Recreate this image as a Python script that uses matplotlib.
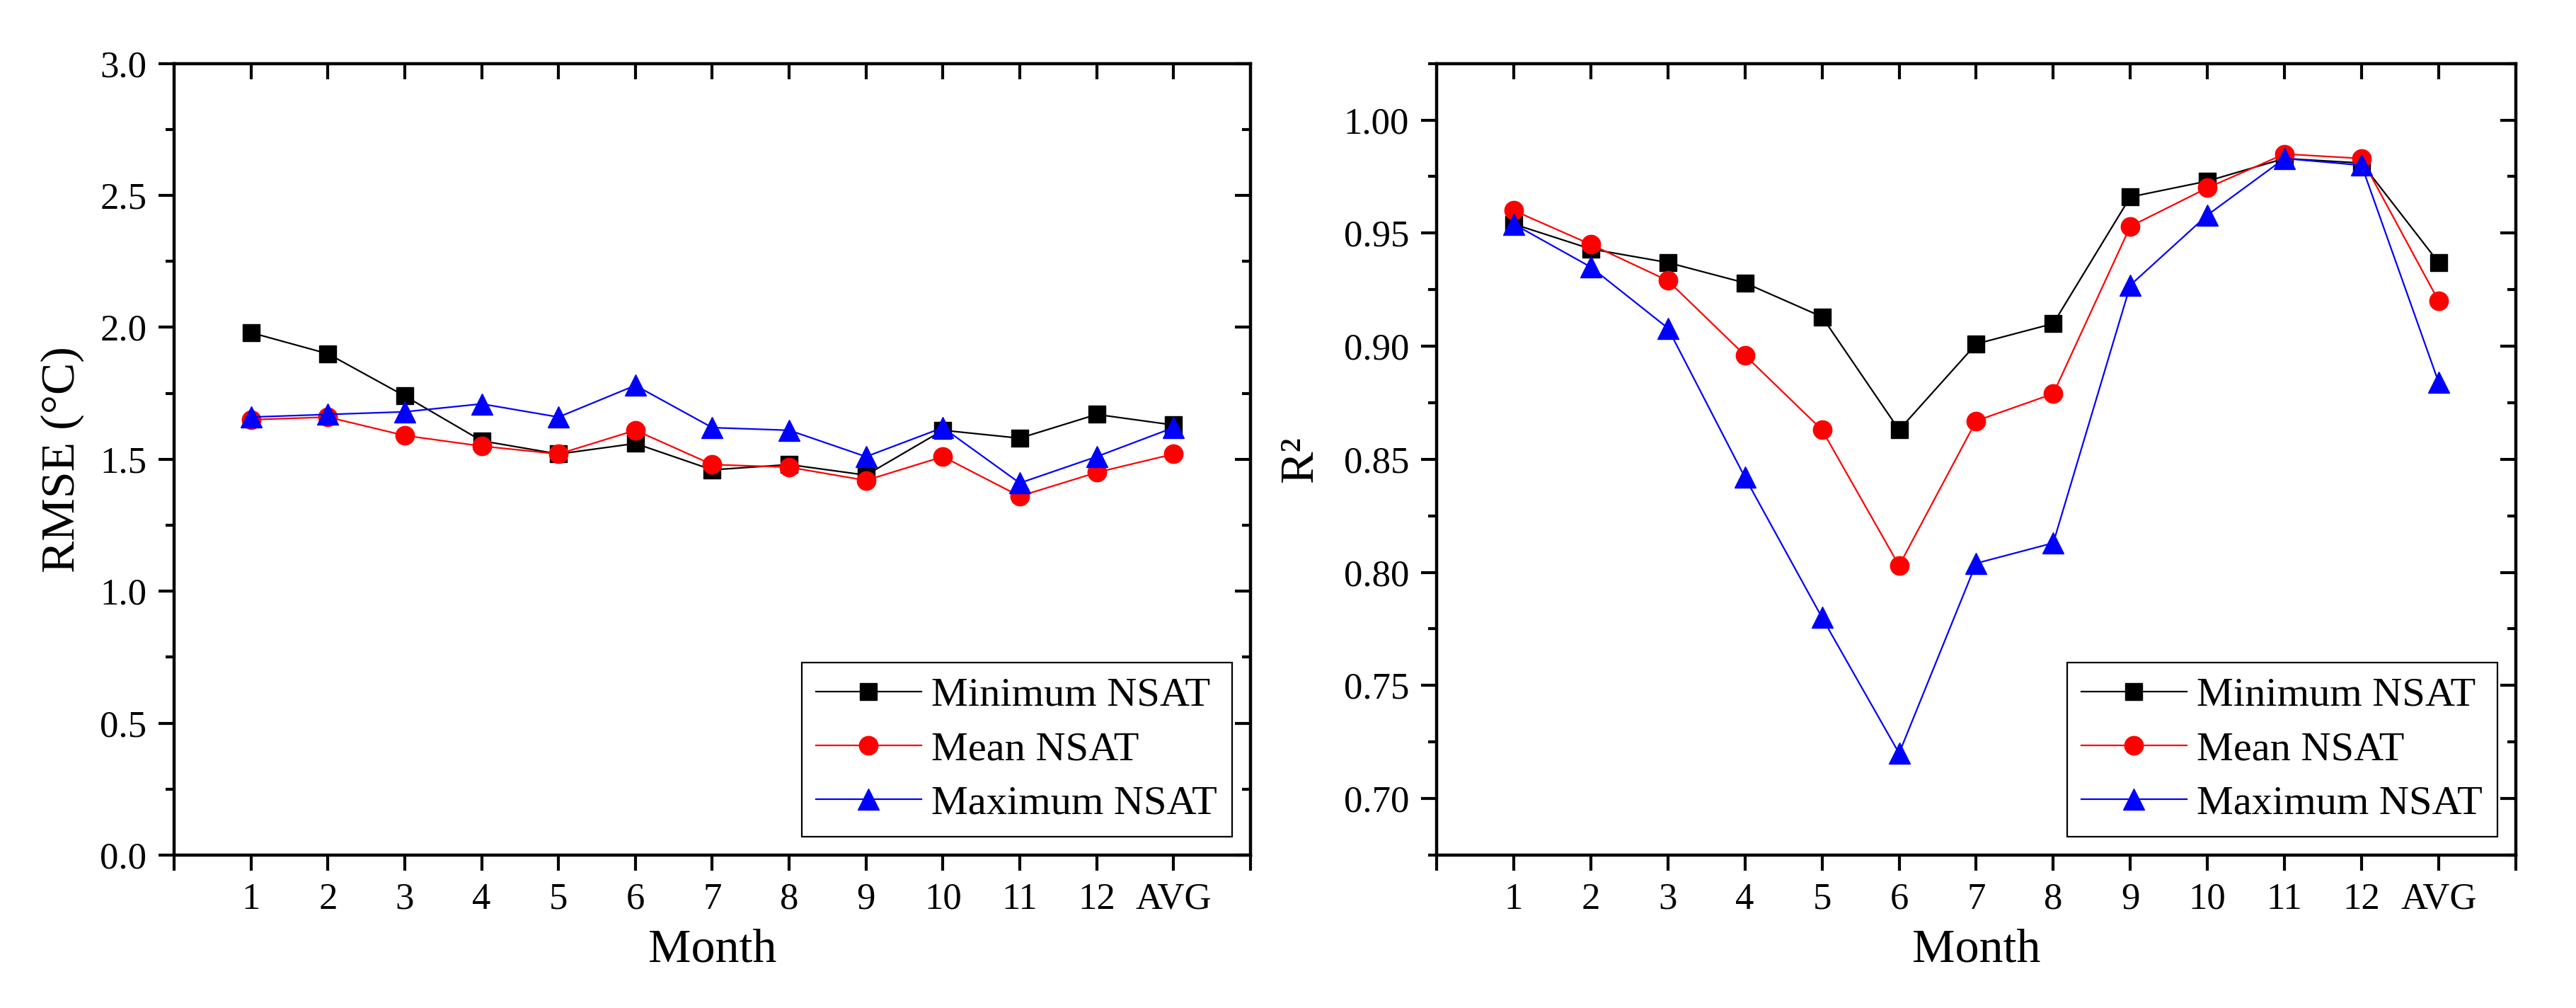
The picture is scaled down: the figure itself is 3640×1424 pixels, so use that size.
import matplotlib.pyplot as plt
from matplotlib.ticker import MultipleLocator

plt.rcParams['font.family'] = ['Liberation Serif', 'DejaVu Serif']

months = ['1', '2', '3', '4', '5', '6', '7', '8', '9', '10', '11', '12', 'AVG']

# RMSE (°C)
rmse_min = [1.98, 1.90, 1.74, 1.57, 1.52, 1.56, 1.46, 1.48, 1.44, 1.61, 1.58, 1.67, 1.63]
rmse_mean = [1.65, 1.66, 1.59, 1.55, 1.52, 1.61, 1.48, 1.47, 1.42, 1.51, 1.36, 1.45, 1.52]
rmse_max = [1.66, 1.67, 1.68, 1.71, 1.66, 1.78, 1.62, 1.61, 1.51, 1.62, 1.41, 1.51, 1.62]

# R2
r2_min = [0.954, 0.943, 0.937, 0.928, 0.913, 0.863, 0.901, 0.910, 0.966, 0.973, 0.983, 0.981, 0.937]
r2_mean = [0.960, 0.945, 0.929, 0.896, 0.863, 0.803, 0.867, 0.879, 0.953, 0.970, 0.985, 0.983, 0.920]
r2_max = [0.954, 0.935, 0.908, 0.842, 0.780, 0.720, 0.804, 0.813, 0.927, 0.958, 0.983, 0.980, 0.884]

x = list(range(1, len(months) + 1))

fig = plt.figure(figsize=(36.4, 14.24), dpi=100)
ax1 = fig.add_axes([0.0676, 0.1517, 0.4178, 0.7853])
ax2 = fig.add_axes([0.5577, 0.1517, 0.4189, 0.7853])

SPINE = 3.0
TICKFS = 38
LABFS = 49


def draw(ax, ymin, ymax, ymaj, ymin_step, ylab, fmt, series, labelpad):
    ymins, ymeans, ymaxs = series
    ax.plot(x, ymins, color='black', lw=1.6, marker='s', ms=17, label='Minimum NSAT')
    ax.plot(x, ymeans, color='red', lw=1.6, marker='o', ms=19, label='Mean NSAT')
    ax.plot(x, ymaxs, color='blue', lw=1.6, marker='^', ms=22, label='Maximum NSAT')
    ax.set_xlim(0, len(months) + 1)
    ax.set_ylim(ymin, ymax)
    ax.set_xticks(range(0, len(months) + 2))
    ax.set_xticklabels([''] + months + [''])
    ax.yaxis.set_major_locator(MultipleLocator(ymaj))
    ax.yaxis.set_minor_locator(MultipleLocator(ymin_step))
    ax.yaxis.set_major_formatter(fmt)
    ax.tick_params(axis='both', which='major', direction='out', length=16, width=SPINE,
                   labelsize=TICKFS, pad=12, top=False, right=False)
    ax.tick_params(axis='y', which='minor', direction='out', length=9, width=SPINE,
                   right=False)
    for s in ax.spines.values():
        s.set_linewidth(SPINE)
    ax.set_xlabel('Month', fontsize=LABFS, labelpad=12)
    ax.set_ylabel(ylab, fontsize=LABFS, labelpad=labelpad)

    # inward ticks on top and right
    tx = ax.twiny()
    tx.set_xlim(ax.get_xlim())
    tx.set_xticks(x)
    tx.tick_params(direction='in', length=16, width=SPINE, labeltop=False)
    ty = ax.twinx()
    ty.set_ylim(ax.get_ylim())
    ty.yaxis.set_major_locator(MultipleLocator(ymaj))
    ty.yaxis.set_minor_locator(MultipleLocator(ymin_step))
    ty.tick_params(which='major', direction='in', length=16, width=SPINE, labelright=False)
    ty.tick_params(which='minor', direction='in', length=9, width=SPINE)
    for t in (tx, ty):
        for s in t.spines.values():
            s.set_linewidth(SPINE)

    leg = ax.legend(loc='lower right', fontsize=42, frameon=True, fancybox=False,
                    edgecolor='black', framealpha=1, borderpad=0.35, labelspacing=0.4,
                    handlelength=2.55, handletextpad=0.25, borderaxespad=0.45)
    leg.get_frame().set_linewidth(1.6)


draw(ax1, 0, 3.0, 0.5, 0.25, 'RMSE (°C)', '{x:.1f}', (rmse_min, rmse_mean, rmse_max), 16)
draw(ax2, 0.675, 1.025, 0.05, 0.025, 'R²', '{x:.2f}', (r2_min, r2_mean, r2_max), 22)

fig.savefig('out.png', dpi=100)
